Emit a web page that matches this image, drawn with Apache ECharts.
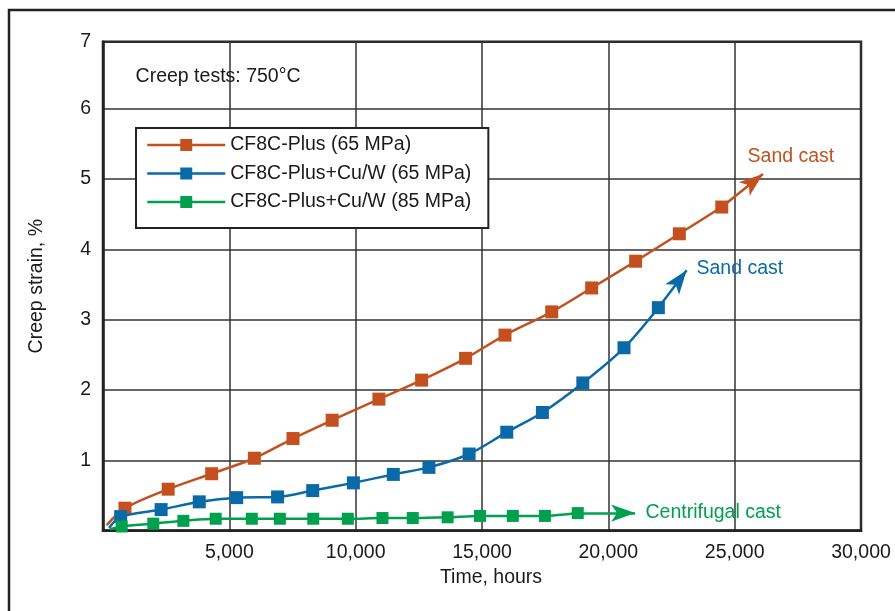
<!DOCTYPE html>
<html>
<head>
<meta charset="utf-8">
<script src="https://cdn.jsdelivr.net/npm/echarts@6/dist/echarts.min.js"></script>
<style>
html,body{margin:0;padding:0;background:#fff;}
#chart{width:895px;height:611px;}
</style>
</head>
<body>
<div id="chart"></div>
<script>
// ---- data ----
const seriesNames = ['CF8C-Plus (65 MPa)', 'CF8C-Plus+Cu/W (65 MPa)', 'CF8C-Plus+Cu/W (85 MPa)'];
// first point of each list = start of the curve (no marker)
const orangeX = [150, 870, 2580, 4300, 5990, 7520, 9070, 10920, 12610, 14350, 15910, 17760, 19340, 21080, 22810, 24490];
const orangeY = [0.08, 0.32, 0.59, 0.81, 1.03, 1.31, 1.57, 1.87, 2.14, 2.45, 2.78, 3.11, 3.45, 3.83, 4.22, 4.60];
const blueX = [240, 700, 2300, 3810, 5290, 6910, 8300, 9910, 11490, 12900, 14490, 15980, 17390, 18990, 20620, 21980];
const blueY = [0.04, 0.20, 0.30, 0.41, 0.47, 0.48, 0.57, 0.68, 0.80, 0.90, 1.09, 1.40, 1.68, 2.10, 2.60, 3.17];
const greenX = [280, 740, 1990, 3180, 4460, 5890, 7000, 8320, 9690, 11060, 12260, 13640, 14920, 16220, 17490, 18790];
const greenY = [0.02, 0.06, 0.10, 0.14, 0.17, 0.17, 0.17, 0.17, 0.17, 0.18, 0.18, 0.19, 0.21, 0.21, 0.21, 0.25];
// arrow tips (continuation of each curve)
const orangeArrow = [26120, 5.07];
const blueArrow = [23100, 3.70];
const greenArrow = [21060, 0.25];
// annotation texts
const noteTitle = 'Creep tests: 750°C';
const noteTitleAt = [1270, 6.45];
const orangeNote = 'Sand cast';
const orangeNoteAt = [25490, 5.31];
const blueNote = 'Sand cast';
const blueNoteAt = [23470, 3.72];
const greenNote = 'Centrifugal cast';
const greenNoteAt = [21450, 0.25];
// axes
const xTicks = [0, 5000, 10000, 15000, 20000, 25000, 30000];
const yTicks = [0, 1, 2, 3, 4, 5, 6, 7];
const xTitle = 'Time, hours';
const yTitle = 'Creep strain, %';

// ---- styling ----
const FONT = '"Liberation Sans", Arial, Helvetica, sans-serif';
const FS = 19.5;
const colors = ['#c5501f', '#0a6aa8', '#00a04f'];

function buildData(xs, ys) {
  return xs.map((x, i) => i === 0 ? { value: [x, ys[i]], symbol: 'none' } : [x, ys[i]]);
}

function arrowLine(xs, ys, tip, color) {
  const n = xs.length - 1;
  return {
    silent: true,
    symbol: ['none', 'arrow'],
    label: { show: false },
    lineStyle: { color: color, width: 2.5, type: 'solid' },
    emphasis: { disabled: true },
    data: [[
      { coord: [xs[n], ys[n]], symbol: 'none' },
      { coord: tip, symbol: 'arrow', symbolSize: [13, 24] }
    ]]
  };
}

function note(text, at, color) {
  return {
    silent: true,
    symbol: 'circle',
    symbolSize: 1,
    itemStyle: { color: 'rgba(0,0,0,0)' },
    label: {
      show: true, position: 'right', distance: 0,
      formatter: text, color: color, fontSize: FS, fontFamily: FONT
    },
    data: [{ coord: at }]
  };
}

const xs = [orangeX, blueX, greenX];
const ys = [orangeY, blueY, greenY];
const arrows = [orangeArrow, blueArrow, greenArrow];

const series = seriesNames.map((name, k) => ({
  name: name,
  type: 'line',
  smooth: 0.3,
  symbol: 'rect',
  symbolSize: k === 2 ? 12 : 13,
  showAllSymbol: true,
  lineStyle: { color: colors[k], width: 2.5 },
  itemStyle: { color: colors[k] },
  emphasis: { disabled: true },
  data: buildData(xs[k], ys[k]),
  markLine: arrowLine(xs[k], ys[k], arrows[k], colors[k]),
  z: 3 + k
}));
series[0].markPoint = {
  ...note(orangeNote, orangeNoteAt, colors[0]),
  data: [
    { coord: orangeNoteAt },
    { coord: noteTitleAt, label: { formatter: noteTitle, color: '#1a1a1a' } }
  ]
};
series[1].markPoint = note(blueNote, blueNoteAt, colors[1]);
series[2].markPoint = note(greenNote, greenNoteAt, colors[2]);

const xMax = xTicks[xTicks.length - 1];
const yTop = 6.95; // the drawn frame sits a little below the 7 line step

const option = {
  animation: false,
  backgroundColor: '#fff',
  textStyle: { fontFamily: FONT },
  graphic: [{
    type: 'rect', z: -10, silent: true,
    shape: { x: 9, y: 10, width: 1000, height: 1000 },
    style: { fill: 'none', stroke: '#222', lineWidth: 2.5 }
  }],
  grid: {
    left: 103, top: 41.7, right: 34, bottom: 80.3,
    show: true, borderColor: '#222', borderWidth: 2.5, backgroundColor: 'transparent'
  },
  legend: {
    left: 136, top: 128, orient: 'vertical',
    itemWidth: 78, itemHeight: 15, itemGap: 8.5,
    padding: [7, 17, 16, 10],
    backgroundColor: '#fff', borderColor: '#222', borderWidth: 2,
    lineStyle: { width: 2.5 },
    textStyle: { fontSize: FS, fontFamily: FONT, color: '#1a1a1a' },
    data: seriesNames,
    selectedMode: false
  },
  xAxis: {
    type: 'value', min: xTicks[0], max: xMax, interval: xTicks[1] - xTicks[0],
    name: xTitle, nameLocation: 'middle', nameGap: 36,
    nameTextStyle: { fontSize: FS, fontFamily: FONT, color: '#1a1a1a', padding: [0, 0, 0, 18] },
    axisLine: { show: true, lineStyle: { color: '#222', width: 2.5 } },
    axisTick: { show: false },
    axisLabel: {
      showMinLabel: false, margin: 12, fontSize: FS, fontFamily: FONT, color: '#1a1a1a',
      formatter: v => v.toLocaleString('en-US')
    },
    splitLine: { show: true, lineStyle: { color: '#333', width: 1.5 } }
  },
  yAxis: {
    type: 'value', min: yTicks[0], max: yTop, interval: yTicks[1] - yTicks[0],
    name: yTitle, nameLocation: 'middle', nameGap: 56,
    nameTextStyle: { fontSize: FS, fontFamily: FONT, color: '#1a1a1a' },
    axisLine: { show: true, lineStyle: { color: '#222', width: 2.5 } },
    axisTick: { show: false },
    axisLabel: {
      showMinLabel: false, showMaxLabel: true, margin: 12, fontSize: FS, fontFamily: FONT, color: '#1a1a1a',
      formatter: v => String(yTicks.reduce((a, b) => Math.abs(b - v) < Math.abs(a - v) ? b : a))
    },
    splitLine: { show: true, lineStyle: { color: '#333', width: 1.5 } }
  },
  series: series
};

const chart = echarts.init(document.getElementById('chart'), null, { renderer: 'canvas' });
chart.setOption(option);
</script>
</body>
</html>
